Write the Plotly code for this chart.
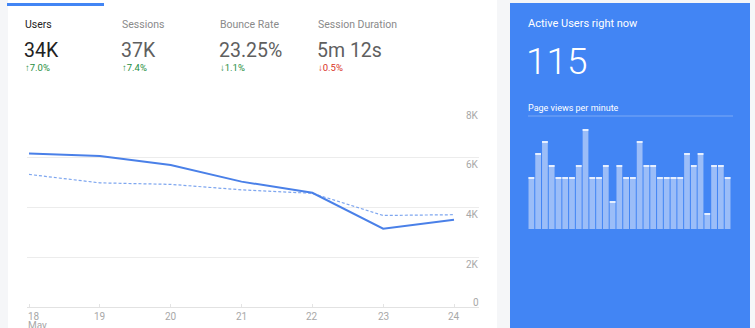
import plotly.graph_objects as go

W, H = 755, 328

# ---- data ----
days = [18, 19, 20, 21, 22, 23, 24]
day_labels = ["18", "19", "20", "21", "22", "23", "24"]
month_label = "May"
users = [6170, 6070, 5710, 5040, 4590, 3150, 3510]
users_prev = [5330, 4990, 4930, 4710, 4570, 3680, 3710]
y_ticks = [0, 2000, 4000, 6000, 8000]
y_tick_labels = ["0", "2K", "4K", "6K", "8K"]

metric_names = ["Users", "Sessions", "Bounce Rate", "Session Duration"]
metric_values = ["34K", "37K", "23.25%", "5m 12s"]
metric_changes = ["↑7.0%", "↑7.4%", "↓1.1%", "↓0.5%"]
metric_good = [True, True, True, False]

active_users = "115"
pageviews = [13, 19, 22, 16, 13, 13, 13, 16, 25, 13, 13, 16, 7, 16, 13,
             13, 22, 16, 16, 13, 13, 13, 13, 19, 16, 19, 4, 16, 16, 13]


def px(x):
    return x / W


def py(y):
    return 1 - y / H


FONT = "Roboto"
BLUE = "#4285f4"
AXIS_TXT = "#a8a8a8"

fig = go.Figure()

# main line chart
fig.add_trace(go.Scatter(x=days, y=users_prev, mode="lines",
                         line=dict(color="#7ea6ef", width=1.2, dash="3px,2px"),
                         hoverinfo="skip", xaxis="x", yaxis="y"))
fig.add_trace(go.Scatter(x=days, y=users, mode="lines",
                         line=dict(color="#4a80e8", width=2),
                         hoverinfo="skip", xaxis="x", yaxis="y"))

# page views bars
idx = list(range(len(pageviews)))
fig.add_trace(go.Bar(x=idx, y=pageviews, marker=dict(color="#9bbdf8", line=dict(width=0)),
                     xaxis="x2", yaxis="y2", hoverinfo="skip"))
cap_h = 0.35
fig.add_trace(go.Bar(x=idx, y=[cap_h] * len(pageviews), base=[v - cap_h for v in pageviews],
                     marker=dict(color="#e6efff", line=dict(width=0)),
                     xaxis="x2", yaxis="y2", hoverinfo="skip"))

ppu = (454 - 29) / 6.0
x_left = 18 - (29 - 27) / ppu
x_right = 24 + (479 - 454) / ppu

shapes = [
    # white card
    dict(type="rect", xref="paper", yref="paper", x0=px(8), x1=px(497), y0=0, y1=1,
         fillcolor="white", line=dict(width=0), layer="below"),
    # blue panel
    dict(type="rect", xref="paper", yref="paper", x0=px(510), x1=px(750), y0=0, y1=py(3),
         fillcolor=BLUE, line=dict(width=0), layer="below"),
    # active tab bar
    dict(type="rect", xref="paper", yref="paper", x0=px(7), x1=px(104), y0=py(6), y1=py(3),
         fillcolor=BLUE, line=dict(width=0), layer="below"),
    # divider under "Page views per minute"
    dict(type="line", xref="paper", yref="paper", x0=px(528), x1=px(733), y0=py(116), y1=py(116),
         line=dict(color="rgba(255,255,255,0.3)", width=1)),
]

ann = []
metric_x = [23, 120, 218, 316]
for i, (n, v, c, g) in enumerate(zip(metric_names, metric_values, metric_changes, metric_good)):
    sel = i == 0
    ann.append(dict(x=px(metric_x[i]), y=py(24.5), xref="paper", yref="paper", text=n,
                    showarrow=False, xanchor="left", yanchor="middle",
                    font=dict(family=FONT, size=10.5, color="#222" if sel else "#8a8a8a")))
    ann.append(dict(x=px(metric_x[i] - 1), y=py(50), xref="paper", yref="paper", text=v,
                    showarrow=False, xanchor="left", yanchor="middle",
                    font=dict(family=FONT, size=19.5, color="#222" if sel else "#5f5f5f")))
    ann.append(dict(x=px(metric_x[i]), y=py(68), xref="paper", yref="paper", text=c,
                    showarrow=False, xanchor="left", yanchor="middle",
                    font=dict(family=FONT, size=9.5, color="#1e8e3e" if g else "#d93025")))

# y-axis labels on the right, just under their gridlines
for v, t in zip(y_ticks, y_tick_labels):
    ann.append(dict(x=px(481), y=v, xref="paper", yref="y", text=t, showarrow=False,
                    xanchor="right", yanchor="middle", yshift=(5 if v == 0 else -7),
                    font=dict(family=FONT, size=10, color=AXIS_TXT)))

# x-axis day labels
for i, (d, t) in enumerate(zip(days, day_labels)):
    ann.append(dict(x=d, y=py(316.5), xref="x", yref="paper", text=t, showarrow=False,
                    xanchor="left" if i == 0 else "center", yanchor="middle",
                    xshift=-3 if i == 0 else 0,
                    font=dict(family=FONT, size=10, color=AXIS_TXT)))
ann.append(dict(x=days[0], y=py(325.5), xref="x", yref="paper", text=month_label,
                showarrow=False, xanchor="left", yanchor="middle", xshift=-3,
                font=dict(family=FONT, size=10, color=AXIS_TXT)))

ann.append(dict(x=px(526), y=py(24), xref="paper", yref="paper", text="Active Users right now",
                showarrow=False, xanchor="left", yanchor="middle",
                font=dict(family=FONT, size=11, color="white")))
ann.append(dict(x=px(524), y=py(61), xref="paper", yref="paper", text=active_users,
                showarrow=False, xanchor="left", yanchor="middle",
                font=dict(family=FONT, size=37, color="white", weight=300)))
ann.append(dict(x=px(526), y=py(107.5), xref="paper", yref="paper", text="Page views per minute",
                showarrow=False, xanchor="left", yanchor="middle",
                font=dict(family=FONT, size=9, color="white")))

fig.update_layout(
    width=W, height=H, margin=dict(l=0, r=0, t=0, b=0, pad=0, autoexpand=False),
    paper_bgcolor="#f5f6f8", plot_bgcolor="rgba(0,0,0,0)",
    showlegend=False, barmode="overlay", bargap=0.15,
    shapes=shapes, annotations=ann,
    xaxis=dict(domain=[px(27), px(479)], range=[x_left, x_right], automargin=False,
               tickvals=days, showticklabels=False, showgrid=False, zeroline=False,
               showline=False, ticks="inside", ticklen=3, tickcolor="#e4e4e4",
               anchor="y", fixedrange=True),
    yaxis=dict(domain=[py(307), py(108)], range=[0, 8000], tickvals=y_ticks, automargin=False,
               showticklabels=False, showgrid=True, gridcolor="#ececec", gridwidth=1,
               zeroline=True, zerolinecolor="#e2e2e2", zerolinewidth=1, fixedrange=True),
    xaxis2=dict(domain=[px(528), px(731)], range=[-0.5, len(pageviews) - 0.5], automargin=False,
                visible=False, anchor="y2", fixedrange=True),
    yaxis2=dict(domain=[py(229), py(129)], range=[0, 25], visible=False, automargin=False,
                anchor="x2", fixedrange=True),
)

fig.write_html("out.html")
